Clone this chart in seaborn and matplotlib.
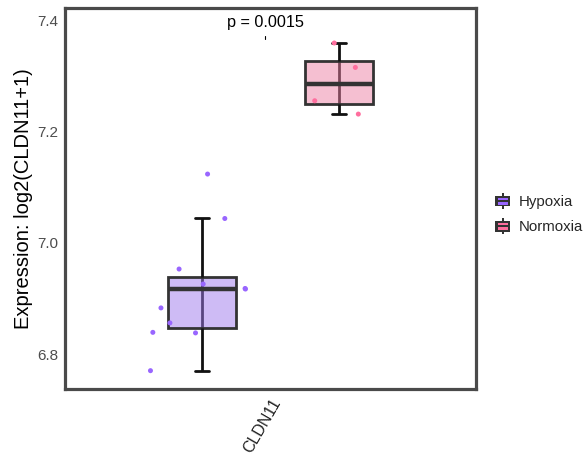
import numpy as np
import pandas as pd
import matplotlib
matplotlib.use("Agg")
import matplotlib.pyplot as plt
import seaborn as sns
from matplotlib.legend_handler import HandlerBase
from matplotlib.patches import Rectangle, Patch

# Expression values per condition
gene = "CLDN11"
groups = ["Hypoxia", "Normoxia"]
hypoxia_expr = [7.124, 7.044, 6.953, 6.926, 6.918, 6.917, 6.883, 6.856, 6.839, 6.838, 6.770]
normoxia_expr = [7.360, 7.316, 7.256, 7.232]
p_label = "p = 0.0015"
y_ticks = [6.8, 7.0, 7.2, 7.4]

point_colors = {"Hypoxia": "#9966FF", "Normoxia": "#FF6E9E"}

df = pd.DataFrame({
    "gene": gene,
    "group": ["Hypoxia"] * len(hypoxia_expr) + ["Normoxia"] * len(normoxia_expr),
    "expr": hypoxia_expr + normoxia_expr,
})

sns.set_theme(style="white")
plt.rcParams["font.family"] = ["Liberation Sans", "DejaVu Sans"]

fig = plt.figure(figsize=(5.88, 4.58), dpi=100)
ax = fig.add_axes([65 / 588, 69 / 458, 411 / 588, 381 / 458])

sns.boxplot(
    data=df, x="gene", y="expr", hue="group", hue_order=groups,
    palette=point_colors, width=0.8, gap=0.5, dodge=True,
    showfliers=False, whis=1.5, linecolor="#333333", linewidth=2,
    capwidths=0.04,
    medianprops=dict(linewidth=3.2, color="#333333"),
    whiskerprops=dict(color="#111111", linewidth=2),
    capprops=dict(color="#111111", linewidth=2),
    legend=False, ax=ax,
)

# Semi-transparent box fill, with the whisker line running behind the box
for patch in list(ax.patches):
    fc = patch.get_facecolor()
    patch.set_facecolor((fc[0], fc[1], fc[2], 0.5))
    ext = patch.get_path().get_extents()
    xc = (ext.x0 + ext.x1) / 2
    ax.vlines(xc, ext.y0, ext.y1, color="#111111", linewidth=2, zorder=1.9)

np.random.seed(3)
sns.stripplot(
    data=df, x="gene", y="expr", hue="group", hue_order=groups,
    palette=point_colors, dodge=True, jitter=0.32, size=3.6,
    linewidth=0, legend=False, ax=ax, zorder=3,
)

ax.set_xlim(-0.6, 0.6)
ax.set_ylim(6.737, 7.423)
ax.set_yticks(y_ticks)
ax.set_yticklabels([f"{v:.1f}" for v in y_ticks])
ax.set_xlabel("")
ax.set_ylabel("Expression: log2(CLDN11+1)", fontsize=14.5, color="black", labelpad=3)
ax.tick_params(axis="both", length=3, width=1.2, color="#333333",
               labelcolor="#4D4D4D", labelsize=11, pad=2)
ax.tick_params(axis="x", labelcolor="#222222", labelsize=11.5)
for lbl in ax.get_xticklabels():
    lbl.set_rotation(60)
    lbl.set_ha("right")
    lbl.set_rotation_mode("anchor")

for side in ["left", "right", "top", "bottom"]:
    ax.spines[side].set_visible(True)
    ax.spines[side].set_color("#4A4A4A")
    ax.spines[side].set_linewidth(2.3)

ax.text(-0.015, 7.397, p_label, ha="center", va="center", fontsize=11.7, color="black")
ax.plot([-0.015, -0.015], [7.368, 7.373], color="black", linewidth=0.8)


class BoxKeyHandler(HandlerBase):
    def create_artists(self, legend, orig_handle, xdescent, ydescent,
                       width, height, fontsize, trans):
        color = orig_handle.get_facecolor()
        w = height * 1.05
        x0 = -xdescent + (width - w) / 2
        y0 = -ydescent
        body_y = y0 + height * 0.12
        body_h = height * 0.76
        artists = [
            Rectangle((x0 + w / 2 - 0.7, y0 - height * 0.05), 1.4, height * 1.1,
                      facecolor="#333333", edgecolor="none", transform=trans),
            Rectangle((x0, body_y), w, body_h, facecolor="#333333",
                      edgecolor="none", transform=trans),
        ]
        bar_h = body_h * 0.24
        for frac in (0.3, 0.7):
            artists.append(Rectangle((x0 + w * 0.16, body_y + body_h * frac - bar_h / 2),
                                     w * 0.68, bar_h, facecolor=color,
                                     edgecolor="none", transform=trans))
        return artists


handles = [Patch(facecolor=point_colors[g], label=g) for g in groups]
fig.legend(handles=handles, labels=groups, handler_map={Patch: BoxKeyHandler()},
           loc="center left", bbox_to_anchor=(495 / 588, (458 - 214) / 458),
           bbox_transform=fig.transFigure, frameon=False, fontsize=10.8,
           handlelength=1.05, handleheight=1.1, handletextpad=0.5,
           labelspacing=0.65, borderpad=0, borderaxespad=0)

fig.savefig("out.png", dpi=100)
